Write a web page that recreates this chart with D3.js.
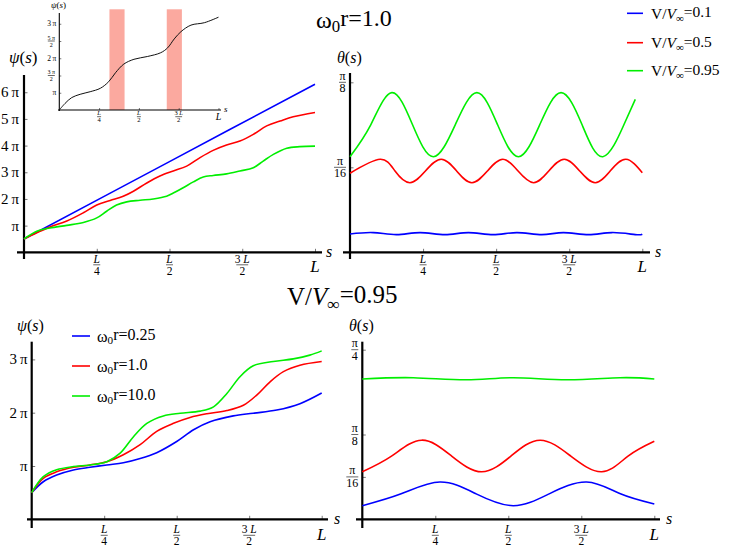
<!DOCTYPE html>
<html><head><meta charset="utf-8">
<script src="https://cdn.jsdelivr.net/npm/d3@7"></script>
<style>
body{margin:0;background:#fff}
text{font-family:"Liberation Serif","Times New Roman","DejaVu Serif",serif;fill:#000}
</style>
</head><body>
<svg id="c" width="729" height="547" font-family="Liberation Serif, DejaVu Serif, serif"></svg>
<script>
// ---------------- DATA ----------------
// s is expressed as a fraction of L; psi in units of pi; theta in units of pi/16
const sTickValues = [0.25, 0.5, 0.75, 1];
const sTickNum = ["L", "L", "3 L", null];
const sTickDen = ["4", "2", "2", null];

const colors = ["#0000ff", "#ff0000", "#00ee00"];

// Top row: omega0 r = 1.0
const topLegend = ["0.1", "0.5", "0.95"];
const topPsiBlue = [[0,0.5],[0.5,3.4],[1,6.3]];
const topPsiRed = [[0,0.5],[0.044,0.73],[0.089,0.95],[0.147,1.17],[0.204,1.48],[0.25,1.77],[0.296,1.94],[0.341,2.1],[0.376,2.29],[0.422,2.6],[0.467,2.86],[0.513,3.05],[0.559,3.23],[0.605,3.55],[0.65,3.82],[0.696,4.02],[0.742,4.17],[0.788,4.42],[0.834,4.74],[0.88,4.92],[0.925,5.08],[1.0,5.24]];
const topPsiGreen = [[0,0.5],[0.044,0.79],[0.089,0.91],[0.147,1.01],[0.204,1.12],[0.25,1.29],[0.284,1.54],[0.318,1.77],[0.353,1.89],[0.399,1.95],[0.444,2.0],[0.49,2.1],[0.513,2.22],[0.547,2.42],[0.582,2.64],[0.616,2.82],[0.65,2.88],[0.696,2.94],[0.742,3.05],[0.788,3.17],[0.822,3.42],[0.857,3.67],[0.903,3.9],[0.948,3.96],[1.0,3.98]];
const topPsiTicks = [1,2,3,4,5,6];
const topPsiTickLabels = ["π","2\u2009π","3\u2009π","4\u2009π","5\u2009π","6\u2009π"];

const topThetaBlue = [[0,0.215],[0.08,0.232],[0.16,0.208],[0.24,0.232],[0.325,0.208],[0.405,0.232],[0.49,0.208],[0.571,0.232],[0.656,0.208],[0.73,0.232],[0.816,0.208],[0.896,0.232],[0.976,0.208],[1.0,0.213]];
const topThetaRed = [[0,0.93],[0.103,1.094],[0.154,0.956],[0.205,0.819],[0.258,0.956],[0.312,1.094],[0.365,0.956],[0.417,0.819],[0.47,0.956],[0.523,1.094],[0.575,0.956],[0.628,0.819],[0.68,0.956],[0.733,1.094],[0.786,0.956],[0.839,0.819],[0.89,0.956],[0.944,1.094],[1.0,0.936]];
const topThetaGreen = [[0,1.125],[0.071,1.5],[0.143,1.878],[0.214,1.5],[0.285,1.125],[0.36,1.5],[0.434,1.878],[0.505,1.5],[0.576,1.125],[0.649,1.5],[0.722,1.878],[0.794,1.5],[0.865,1.125],[0.937,1.5],[0.976,1.8]];
const topThetaTicks = [1,2];
const topThetaTickDen = ["16","8"];

// Inset
const insetPsi = [[0,0.5],[0.036,0.69],[0.078,0.86],[0.131,0.955],[0.194,1.03],[0.258,1.13],[0.31,1.32],[0.353,1.58],[0.405,1.83],[0.469,1.97],[0.553,2.05],[0.637,2.16],[0.68,2.3],[0.722,2.56],[0.764,2.77],[0.827,2.96],[0.911,3.03],[1.0,3.19]];
const insetBands = [[0.315,0.41],[0.675,0.77]];
const insetTicks = [1,1.5,2,2.5,3];
const insetTickNum = [null,"3 π",null,"5 π",null];
const insetTickDen = [null,"2",null,"2",null];
const insetTickText = ["π",null,"2\u2009π",null,"3\u2009π"];

// Bottom row: V/Vinf = 0.95
const botLegend = ["0.25", "1.0", "10.0"];
const botPsiBlue = [[0,0.5],[0.04,0.705],[0.086,0.83],[0.144,0.925],[0.201,0.975],[0.259,1.02],[0.316,1.06],[0.374,1.14],[0.431,1.25],[0.5,1.46],[0.558,1.68],[0.615,1.83],[0.695,1.94],[0.764,1.99],[0.845,2.05],[0.925,2.17],[1.0,2.37]];
const botPsiRed = [[0,0.5],[0.04,0.77],[0.086,0.89],[0.144,0.975],[0.201,1.02],[0.259,1.08],[0.316,1.21],[0.374,1.4],[0.431,1.65],[0.489,1.8],[0.546,1.91],[0.604,1.98],[0.673,2.04],[0.73,2.14],[0.776,2.33],[0.822,2.58],[0.868,2.77],[0.925,2.89],[1.0,2.96]];
const botPsiGreen = [[0,0.5],[0.04,0.8],[0.086,0.93],[0.144,0.99],[0.201,1.02],[0.259,1.08],[0.305,1.24],[0.351,1.55],[0.397,1.8],[0.454,1.94],[0.512,1.99],[0.581,2.03],[0.627,2.11],[0.673,2.36],[0.719,2.68],[0.764,2.88],[0.833,2.96],[0.902,3.01],[0.959,3.08],[1.0,3.16]];
const botPsiTicks = [1,2,3];
const botPsiTickLabels = ["π","2\u2009π","3\u2009π"];

const botThetaBlue = [[0,0.32],[0.133,0.6],[0.266,0.878],[0.39,0.6],[0.517,0.32],[0.64,0.6],[0.768,0.878],[0.884,0.6],[1.0,0.36]];
const botThetaRed = [[0,1.12],[0.1,1.49],[0.203,1.866],[0.306,1.49],[0.409,1.12],[0.509,1.49],[0.609,1.866],[0.714,1.49],[0.82,1.12],[0.91,1.49],[1.0,1.84]];
const botThetaGreen = [[0,3.31],[0.175,3.34],[0.357,3.29],[0.517,3.34],[0.7,3.29],[0.882,3.34],[1.0,3.31]];
const botThetaTicks = [1,2,4];
const botThetaTickDen = ["16","8","4"];

// ---------------- DRAWING ----------------
const svg = d3.select("#c");

function richText(sel, str, italicChars) {
  [...str].forEach(ch => {
    const t = sel.append("tspan").text(ch);
    if (italicChars.includes(ch)) t.attr("font-style", "italic");
  });
}

function fraction(g, cx, barY, num, den, fs, numOff, denOff, barW) {
  const n = g.append("text").attr("x", cx).attr("y", barY - numOff)
    .attr("text-anchor", "middle").attr("font-size", fs);
  richText(n, num, ["L"]);
  g.append("text").attr("x", cx).attr("y", barY + denOff)
    .attr("text-anchor", "middle").attr("font-size", fs).text(den);
  g.append("line").attr("x1", cx - barW/2).attr("x2", cx + barW/2)
    .attr("y1", barY).attr("y2", barY).attr("stroke", "#000").attr("stroke-width", 0.6);
}

function panel(o) {
  const g = svg.append("g");
  const x = d3.scaleLinear().domain([0, 1]).range([o.x0, o.x1]);
  const y = d3.scaleLinear().domain([o.yMin, o.yMax]).range([o.yBase, o.yTop]);

  if (o.bands) {
    g.selectAll("rect.band").data(o.bands).join("rect").attr("class","band")
      .attr("x", d => x(d[0])).attr("width", d => x(d[1]) - x(d[0]))
      .attr("y", y(o.bandTop)).attr("height", y(o.yMin) - y(o.bandTop))
      .attr("fill", "#fba99f");
  }

  const xa = g.append("g").attr("transform", `translate(0,${o.yBase})`)
    .call(d3.axisBottom(x).tickValues(sTickValues).tickSizeInner(-o.tick).tickSizeOuter(0).tickFormat(""));
  xa.select(".domain").remove();
  xa.selectAll("line").attr("stroke", "#555").attr("stroke-width", 0.8);
  const ya = g.append("g").attr("transform", `translate(${o.x0},0)`)
    .call(d3.axisLeft(y).tickValues(o.yTicks).tickSizeInner(-o.tick).tickSizeOuter(0).tickFormat(""));
  ya.select(".domain").remove();
  ya.selectAll("line").attr("stroke", "#555").attr("stroke-width", 0.8);

  g.append("line").attr("x1", o.axL).attr("x2", o.axR).attr("y1", o.yBase).attr("y2", o.yBase)
    .attr("stroke", "#000").attr("stroke-width", o.aw);
  g.append("line").attr("x1", o.x0).attr("x2", o.x0).attr("y1", o.axTop).attr("y2", o.axBot)
    .attr("stroke", "#000").attr("stroke-width", o.aw);

  const line = d3.line().x(d => x(d[0])).y(d => y(d[1])).curve(o.curve);
  o.series.forEach((s, i) => {
    g.append("path").datum(s).attr("fill", "none").attr("stroke", o.colors[i])
      .attr("stroke-width", o.lw).attr("d", line);
  });

  sTickValues.forEach((v, i) => {
    if (sTickNum[i]) {
      fraction(g, x(v), o.yBase + o.xf.bar, sTickNum[i], sTickDen[i], o.xf.fs, o.xf.num, o.xf.den, o.xf.bw * (sTickNum[i].length > 1 ? 1.7 : 1));
    } else {
      g.append("text").attr("x", x(v)).attr("y", o.yBase + o.xL.dy).attr("text-anchor", "middle")
        .attr("font-size", o.xL.fs).attr("font-style", "italic").text("L");
    }
  });
  g.append("text").attr("x", o.axR + o.sLab.dx).attr("y", o.yBase + o.sLab.dy)
    .attr("font-size", o.sLab.fs).attr("font-style", "italic").text("s");

  o.yTicks.forEach((v, i) => o.yLabel(g, o.x0, y(v), i));

  const t = g.append("text").attr("x", o.title.x).attr("y", o.title.y).attr("font-size", o.title.fs);
  t.append("tspan").attr("font-style", "italic").text(o.title.sym);
  t.append("tspan").text("(");
  t.append("tspan").attr("font-style", "italic").text("s");
  t.append("tspan").text(")");
  return g;
}

function simpleYLabel(labels, fs, gap) {
  return (g, x0, yy, i) => {
    g.append("text").attr("x", x0 - gap).attr("y", yy).attr("dy", "0.33em")
      .attr("text-anchor", "end").attr("font-size", fs).text(labels[i]);
  };
}
function fracYLabel(dens, fs, gap) {
  return (g, x0, yy, i) => {
    const w = dens[i].length > 1 ? 12 : 7;
    fraction(g, x0 - gap - w/2, yy, "π", dens[i], fs, 2.5, 10, w);
  };
}

const xfMain = {bar: 12.5, num: 2.2, den: 10.5, fs: 11.5, bw: 7};
const smooth = d3.curveCatmullRom.alpha(0.5);
const wave = d3.curveNatural;

// top-left psi panel
panel({x0: 24, x1: 315, yBase: 252.3, yTop: 78.9, yMin: 0, yMax: 6.5,
  axL: 17, axR: 322, axTop: 75, axBot: 259, aw: 2.2, lw: 1.6, tick: 3.5, curve: smooth,
  yTicks: topPsiTicks, yLabel: simpleYLabel(topPsiTickLabels, 15, 5),
  series: [topPsiBlue, topPsiRed, topPsiGreen], colors,
  xf: xfMain, xL: {dy: 20, fs: 17}, sLab: {dx: 4, dy: 5, fs: 16},
  title: {x: 9, y: 63, fs: 17, sym: "ψ"}});

// inset
panel({x0: 59.3, x1: 218.5, yBase: 110, yTop: 13, yMin: 0.5, yMax: 0.5 + 97/34.5,
  axL: 58, axR: 221, axTop: 13, axBot: 111, aw: 1.1, lw: 1, tick: 2, curve: smooth,
  bands: insetBands, bandTop: 0.5 + 100.7/34.5,
  yTicks: insetTicks, yLabel: (g, x0, yy, i) => {
    if (insetTickText[i]) {
      g.append("text").attr("x", x0 - 3).attr("y", yy).attr("dy", "0.33em")
        .attr("text-anchor", "end").attr("font-size", 7.5).text(insetTickText[i]);
    } else {
      fraction(g, x0 - 8, yy, insetTickNum[i], insetTickDen[i], 6, 1.5, 5.5, 7);
    }
  },
  series: [insetPsi], colors: ["#111"],
  xf: {bar: 6.7, num: 1.3, den: 5.5, fs: 6.5, bw: 4}, xL: {dy: 10, fs: 10}, sLab: {dx: 3, dy: 2, fs: 9},
  title: {x: 51, y: 8, fs: 9, sym: "ψ"}});

// top-right theta panel
panel({x0: 350, x1: 642.3, yBase: 252.3, yTop: 73, yMin: 0, yMax: 179.3/85,
  axL: 343, axR: 650, axTop: 73, axBot: 259, aw: 2.2, lw: 1.6, tick: 3.5, curve: wave,
  yTicks: topThetaTicks, yLabel: fracYLabel(topThetaTickDen, 12, 4),
  series: [topThetaBlue, topThetaRed, topThetaGreen], colors,
  xf: xfMain, xL: {dy: 20, fs: 17}, sLab: {dx: 5, dy: 5, fs: 16},
  title: {x: 337, y: 63, fs: 16, sym: "θ"}});

// bottom-left psi panel
panel({x0: 31.7, x1: 321.7, yBase: 519.3, yTop: 341.7, yMin: 0, yMax: 177.6/53.3,
  axL: 27, axR: 328, axTop: 341.7, axBot: 528, aw: 2.2, lw: 1.6, tick: 3.5, curve: smooth,
  yTicks: botPsiTicks, yLabel: simpleYLabel(botPsiTickLabels, 15, 4),
  series: [botPsiBlue, botPsiRed, botPsiGreen], colors,
  xf: {bar: 16, num: 2.3, den: 10, fs: 11.5, bw: 7}, xL: {dy: 21, fs: 17}, sLab: {dx: 6, dy: 5, fs: 16},
  title: {x: 17, y: 331, fs: 16, sym: "ψ"}});

// bottom-right theta panel
panel({x0: 362.3, x1: 654.3, yBase: 519.3, yTop: 341.7, yMin: 0, yMax: 177.6/42.4,
  axL: 356, axR: 660, axTop: 341.7, axBot: 528, aw: 2.2, lw: 1.6, tick: 3.5, curve: wave,
  yTicks: botThetaTicks, yLabel: fracYLabel(botThetaTickDen, 12, 4),
  series: [botThetaBlue, botThetaRed, botThetaGreen], colors,
  xf: {bar: 16, num: 2.3, den: 10, fs: 11.5, bw: 7}, xL: {dy: 21, fs: 17}, sLab: {dx: 6, dy: 5, fs: 16},
  title: {x: 349, y: 331, fs: 16, sym: "θ"}});

// ---------------- TITLES & LEGENDS ----------------
function omegaText(sel, val) {
  sel.append("tspan").text("ω");
  sel.append("tspan").attr("font-size", "70%").attr("dy", "0.25em").text("0");
  sel.append("tspan").attr("dy", "-0.25em").text("r=" + val);
}
function vText(sel, val) {
  sel.append("tspan").text("V/");
  sel.append("tspan").attr("font-style", "italic").text("V");
  sel.append("tspan").attr("font-size", "70%").attr("dy", "0.3em").text("∞");
  sel.append("tspan").attr("dy", "-0.3em").text("=" + val);
}

omegaText(svg.append("text").attr("x", 316).attr("y", 28).attr("font-size", 24), "1.0");
vText(svg.append("text").attr("x", 287).attr("y", 305).attr("font-size", 25), "0.95");

topLegend.forEach((v, i) => {
  const yy = [13.3, 42.7, 70.7][i];
  svg.append("line").attr("x1", 627).attr("x2", 643).attr("y1", yy).attr("y2", yy)
    .attr("stroke", colors[i]).attr("stroke-width", 1.6);
  vText(svg.append("text").attr("x", 651).attr("y", yy + 5.5).attr("font-size", 15.5), v);
});
botLegend.forEach((v, i) => {
  const yy = [336, 366, 396][i];
  svg.append("line").attr("x1", 72).attr("x2", 90).attr("y1", yy).attr("y2", yy)
    .attr("stroke", colors[i]).attr("stroke-width", 1.6);
  omegaText(svg.append("text").attr("x", 97).attr("y", yy + 5.5).attr("font-size", 16), v);
});
</script>
</body></html>
